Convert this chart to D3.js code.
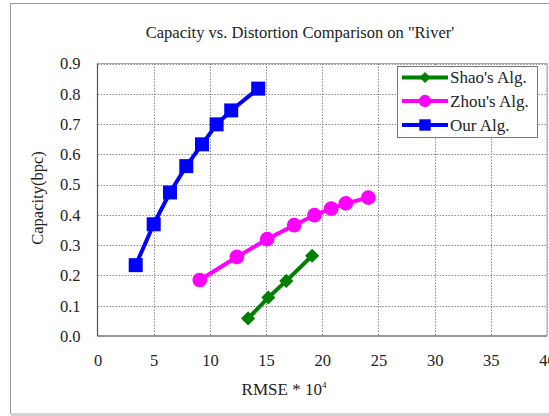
<!DOCTYPE html>
<html><head><meta charset="utf-8">
<script src="https://cdn.jsdelivr.net/npm/d3@7"></script>
<style>html,body{margin:0;padding:0;background:#fff;}svg{display:block;}</style>
</head><body>
<script>
const shaoX = [13.4, 15.2, 16.8, 19.1];
const shaoY = [0.058, 0.127, 0.182, 0.265];
const zhouX = [9.1, 12.4, 15.1, 17.5, 19.3, 20.8, 22.1, 24.1];
const zhouY = [0.185, 0.261, 0.320, 0.366, 0.399, 0.421, 0.438, 0.457];
const ourX = [3.4, 5.0, 6.45, 7.9, 9.3, 10.6, 11.9, 14.3];
const ourY = [0.234, 0.369, 0.474, 0.561, 0.633, 0.699, 0.745, 0.817];
const xTicks = [0, 5, 10, 15, 20, 25, 30, 35, 40];
const yTicks = [0, 0.1, 0.2, 0.3, 0.4, 0.5, 0.6, 0.7, 0.8, 0.9];
const seriesNames = ["Shao's Alg.", "Zhou's Alg.", "Our Alg."];
const seriesColors = ["#008000", "#ff00ff", "#0000ff"];
const seriesMarkers = ["diamond", "circle", "square"];

const W = 549, H = 416;
const svg = d3.select("body").append("svg").attr("width", W).attr("height", H);
const font = "'Liberation Serif','Times New Roman',serif";

// outer frame
svg.append("rect").attr("x", 10.5).attr("y", 3.5).attr("width", 560).attr("height", 410)
  .attr("fill", "#fff").attr("stroke", "#9a9a9a").attr("stroke-width", 1);
svg.append("rect").attr("x", 11).attr("y", 413).attr("width", 560).attr("height", 3).attr("fill", "#d4d4d4");

const L = 97.5, R = 547, T = 63.5, B = 336;
const x = d3.scaleLinear().domain([0, 40]).range([L, R]);
const y = d3.scaleLinear().domain([0, 0.9]).range([B, T]);

// grid
svg.append("g").selectAll("line").data(xTicks.slice(1)).join("line")
  .attr("x1", d => Math.round(x(d)) + 0.5).attr("x2", d => Math.round(x(d)) + 0.5)
  .attr("y1", T).attr("y2", B).attr("stroke", "#8a8a8a").attr("stroke-width", 1).attr("stroke-dasharray", "1.5,1.5");
svg.append("g").selectAll("line").data(yTicks.slice(1)).join("line")
  .attr("y1", d => Math.round(y(d)) + 0.5).attr("y2", d => Math.round(y(d)) + 0.5)
  .attr("x1", L).attr("x2", R).attr("stroke", "#8a8a8a").attr("stroke-width", 1).attr("stroke-dasharray", "1.5,1.5");

// plot border
svg.append("rect").attr("x", L).attr("y", T).attr("width", R - L).attr("height", B - T)
  .attr("fill", "none").attr("stroke", "#aaaaaa").attr("stroke-width", 1);
svg.append("line").attr("x1", L).attr("x2", L).attr("y1", T).attr("y2", B).attr("stroke", "#555").attr("stroke-width", 1.2);
svg.append("line").attr("x1", L).attr("x2", R).attr("y1", B).attr("y2", B).attr("stroke", "#555").attr("stroke-width", 1.2);

// axes via d3
const xAxis = svg.append("g").attr("transform", `translate(0,${B})`)
  .call(d3.axisBottom(x).tickValues(xTicks).tickSize(0).tickPadding(18).tickFormat(d3.format("d")));
xAxis.select(".domain").remove();
xAxis.selectAll("text").attr("font-family", font).attr("font-size", 16.5).attr("fill", "#222");

const yAxis = svg.append("g").attr("transform", `translate(${L},0)`)
  .call(d3.axisLeft(y).tickValues(yTicks).tickSize(0).tickPadding(17).tickFormat(d3.format(".1f")));
yAxis.select(".domain").remove();
yAxis.selectAll("text").attr("font-family", font).attr("font-size", 16.5).attr("fill", "#222");

// titles
svg.append("text").attr("x", 300).attr("y", 38).attr("text-anchor", "middle")
  .attr("font-family", font).attr("font-size", 16.5).attr("fill", "#222")
  .text("Capacity vs. Distortion Comparison on \"River'");
const xl = svg.append("text").attr("x", 284).attr("y", 395).attr("text-anchor", "middle")
  .attr("font-family", font).attr("font-size", 17).attr("fill", "#222");
xl.append("tspan").text("RMSE * 10");
xl.append("tspan").attr("font-size", 9).attr("dy", -7).text("4");
svg.append("text").attr("transform", "translate(43,198) rotate(-90)").attr("text-anchor", "middle")
  .attr("font-family", font).attr("font-size", 16.5).attr("fill", "#222").text("Capacity(bpc)");

// series
const data = [
  shaoX.map((v, i) => [v, shaoY[i]]),
  zhouX.map((v, i) => [v, zhouY[i]]),
  ourX.map((v, i) => [v, ourY[i]])
];
const line = d3.line().x(d => x(d[0])).y(d => y(d[1]));
const symType = { diamond: d3.symbolSquare, circle: d3.symbolCircle, square: d3.symbolSquare };
const symSize = { diamond: 100, circle: 170, square: 196 };
const symRot = { diamond: 45, circle: 0, square: 0 };

data.forEach((pts, i) => {
  const g = svg.append("g");
  g.append("path").attr("d", line(pts)).attr("fill", "none")
    .attr("stroke", seriesColors[i]).attr("stroke-width", 4).attr("stroke-linejoin", "round");
  const m = seriesMarkers[i];
  g.selectAll("path.m").data(pts).join("path").attr("class", "m")
    .attr("d", d3.symbol().type(symType[m]).size(symSize[m]))
    .attr("transform", d => `translate(${x(d[0])},${y(d[1])}) rotate(${symRot[m]})`)
    .attr("fill", seriesColors[i]);
});

// legend
const lg = svg.append("g");
lg.append("rect").attr("x", 397.5).attr("y", 66.5).attr("width", 140).attr("height", 71)
  .attr("fill", "#fff").attr("stroke", "#777").attr("stroke-width", 1);
const rowsY = [77.5, 101, 125];
seriesNames.forEach((n, i) => {
  lg.append("line").attr("x1", 402).attr("x2", 448).attr("y1", rowsY[i]).attr("y2", rowsY[i])
    .attr("stroke", seriesColors[i]).attr("stroke-width", 4);
  const m = seriesMarkers[i];
  const lsize = { diamond: 60, circle: 120, square: 130 }[m];
  lg.append("path").attr("d", d3.symbol().type(symType[m]).size(lsize))
    .attr("transform", `translate(425,${rowsY[i]}) rotate(${symRot[m]})`).attr("fill", seriesColors[i]);
  lg.append("text").attr("x", 450).attr("y", rowsY[i] + 5.5).attr("font-family", font)
    .attr("font-size", 17).attr("fill", "#222").text(n);
});
</script>
</body></html>
